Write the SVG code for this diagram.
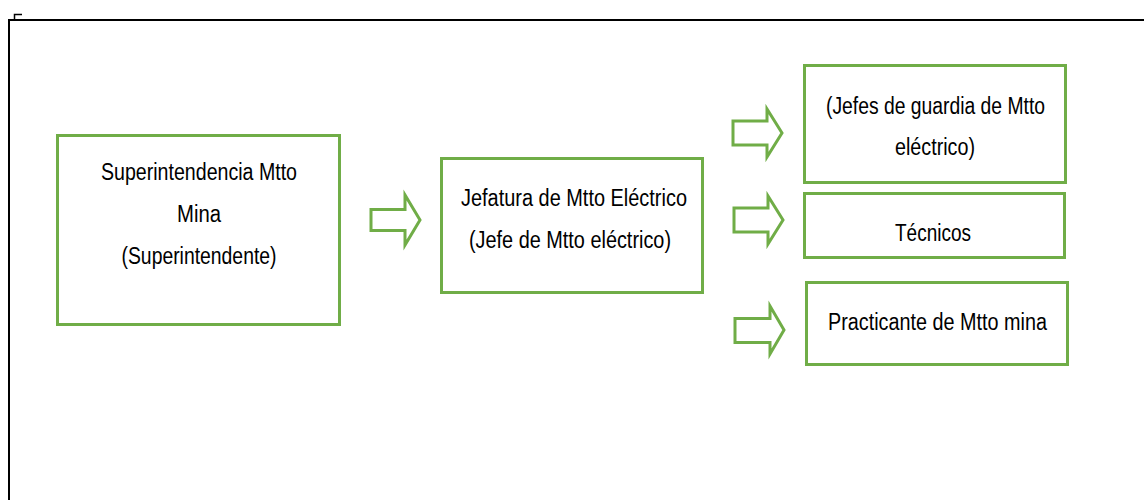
<svg xmlns="http://www.w3.org/2000/svg" width="1144" height="500" viewBox="0 0 1144 500">
<style>
.box{fill:#fff;stroke:#70ad47;stroke-width:3}
.arr{fill:#fff;stroke:#70ad47;stroke-width:3;stroke-linejoin:miter}
.t{font-family:"Liberation Sans Narrow","Liberation Sans",Arial,sans-serif;font-size:23px;fill:#000;text-anchor:middle}
.frame{stroke:#000;stroke-width:2;fill:none}
</style>
<rect width="1144" height="500" fill="#fff"/>
<g id="frame">
<path class="frame" d="M9,500 V20 H1144"/>
<path d="M14.5,20 V14.5 H22" stroke="#000" stroke-width="1.5" fill="none"/>
</g>
<g id="n1">
<rect class="box" x="57.5" y="135.5" width="282" height="189"/>
<text class="t" x="199" y="180" textLength="196" lengthAdjust="spacingAndGlyphs">Superintendencia Mtto</text>
<text class="t" x="199" y="222" textLength="44" lengthAdjust="spacingAndGlyphs">Mina</text>
<text class="t" x="199" y="264" textLength="155" lengthAdjust="spacingAndGlyphs">(Superintendente)</text>
</g>
<g id="n2">
<rect class="box" x="441.5" y="158.5" width="261" height="134"/>
<text class="t" x="574" y="206" textLength="226" lengthAdjust="spacingAndGlyphs">Jefatura de Mtto Eléctrico</text>
<text class="t" x="570" y="248" textLength="202" lengthAdjust="spacingAndGlyphs">(Jefe de Mtto eléctrico)</text>
</g>
<g id="n3">
<rect class="box" x="804.5" y="65.5" width="261" height="117"/>
<text class="t" x="935.5" y="114" textLength="219" lengthAdjust="spacingAndGlyphs">(Jefes de guardia de Mtto</text>
<text class="t" x="935" y="155" textLength="80" lengthAdjust="spacingAndGlyphs">eléctrico)</text>
</g>
<g id="n4">
<rect class="box" x="804.5" y="193.5" width="260" height="64"/>
<text class="t" x="933" y="241" textLength="76" lengthAdjust="spacingAndGlyphs">Técnicos</text>
</g>
<g id="n5">
<rect class="box" x="806.5" y="282.5" width="261" height="82"/>
<text class="t" x="937.5" y="330" textLength="219" lengthAdjust="spacingAndGlyphs">Practicante de Mtto mina</text>
</g>
<g id="connectors">
<path class="arr" d="M371,209.5 H405 V195 L420,220 L405,245 V230.5 H371 Z"/>
<path class="arr" d="M733,121 H767 V109 L782,133 L767,157 V145 H733 Z"/>
<path class="arr" d="M734,208 H768 V196 L783,220 L768,244 V232 H734 Z"/>
<path class="arr" d="M735,318.5 H770 V306 L784,330 L770,354 V342.5 H735 Z"/>
</g>
</svg>
